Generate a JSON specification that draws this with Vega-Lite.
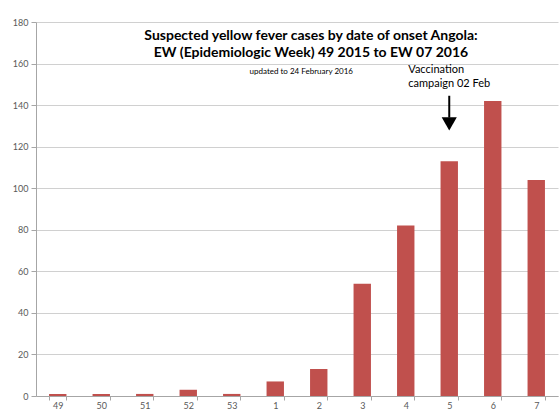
{
  "$schema": "https://vega.github.io/schema/vega-lite/v6.json",
  "autosize": "none",
  "width": 522,
  "height": 374,
  "padding": {"left": 36, "top": 22, "right": 2, "bottom": 13},
  "background": "white",
  "config": {"view": {"stroke": null}, "font": "Lato"},
  "title": {
    "text": ["Suspected yellow fever cases by date of onset Angola:", "EW (Epidemiologic Week) 49 2015 to EW 07 2016"],
    "fontSize": 14,
    "fontWeight": "bold",
    "font": "Lato",
    "color": "#000000",
    "anchor": "middle",
    "frame": "group",
    "baseline": "top",
    "orient": "top",
    "offset": 0,
    "dx": 14,
    "dy": 42,
    "lineHeight": 17
  },
  "datasets": {
    "cases": [
      {"week": "49", "cases": 1},
      {"week": "50", "cases": 1},
      {"week": "51", "cases": 1},
      {"week": "52", "cases": 3},
      {"week": "53", "cases": 1},
      {"week": "1", "cases": 7},
      {"week": "2", "cases": 13},
      {"week": "3", "cases": 54},
      {"week": "4", "cases": 82},
      {"week": "5", "cases": 113},
      {"week": "6", "cases": 142},
      {"week": "7", "cases": 104}
    ],
    "notes": [
      {"week": "1", "y": 156, "label": "updated to 24 February 2016", "kind": "sub"},
      {"week": "5", "y": 157, "label": "Vaccination", "kind": "note"},
      {"week": "5", "y": 150, "label": "campaign 02 Feb", "kind": "note"}
    ],
    "arrow": [
      {"week": "5", "top": 144.5, "bottom": 134}
    ],
    "head": [
      {"week": "5", "y": 131}
    ]
  },
  "encoding": {
    "x": {
      "field": "week",
      "type": "ordinal",
      "sort": null,
      "scale": {"domain": ["49", "50", "51", "52", "53", "1", "2", "3", "4", "5", "6", "7"], "paddingInner": 0.6, "paddingOuter": 0.3},
      "axis": {
        "title": null,
        "labelAngle": 0,
        "labelFontSize": 9,
        "labelColor": "#595959",
        "labelPadding": 1,
        "domainColor": "#A6A6A6",
        "tickColor": "#A6A6A6",
        "tickBand": "extent",
        "tickSize": 4,
        "grid": false
      }
    }
  },
  "layer": [
    {
      "data": {"name": "cases"},
      "mark": {"type": "bar", "color": "#C0504D"},
      "encoding": {
        "y": {
          "field": "cases",
          "type": "quantitative",
          "scale": {"domain": [0, 180], "nice": false},
          "axis": {
            "title": null,
            "values": [0, 20, 40, 60, 80, 100, 120, 140, 160, 180],
            "labelFontSize": 9,
            "labelColor": "#595959",
            "labelPadding": 3,
            "domainColor": "#A6A6A6",
            "tickColor": "#A6A6A6",
            "tickSize": 5,
            "gridColor": "#D0D0D0",
            "grid": true
          }
        }
      }
    },
    {
      "data": {"name": "notes"},
      "transform": [{"filter": "datum.kind == 'sub'"}],
      "mark": {"type": "text", "fontSize": 8, "align": "center", "baseline": "middle", "dx": 26, "color": "#000000"},
      "encoding": {"y": {"field": "y", "type": "quantitative"}, "text": {"field": "label"}}
    },
    {
      "data": {"name": "notes"},
      "transform": [{"filter": "datum.kind == 'note'"}],
      "mark": {"type": "text", "fontSize": 11, "align": "left", "baseline": "middle", "dx": -41, "color": "#000000"},
      "encoding": {"y": {"field": "y", "type": "quantitative"}, "text": {"field": "label"}}
    },
    {
      "data": {"name": "arrow"},
      "mark": {"type": "rule", "color": "#000000", "strokeWidth": 2},
      "encoding": {"y": {"field": "top", "type": "quantitative"}, "y2": {"field": "bottom"}}
    },
    {
      "data": {"name": "head"},
      "mark": {"type": "point", "shape": "triangle-down", "filled": true, "color": "#000000", "opacity": 1, "size": 230},
      "encoding": {"y": {"field": "y", "type": "quantitative"}}
    }
  ]
}
